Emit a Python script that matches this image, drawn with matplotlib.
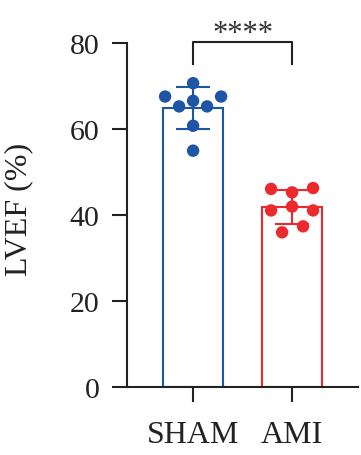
import numpy as np
import matplotlib
matplotlib.use("Agg")
import matplotlib.pyplot as plt

plt.rcParams['font.family'] = ['Liberation Serif', 'DejaVu Serif']

groups = ["SHAM", "AMI"]
sham_values = [70.7, 67.6, 65.3, 66.6, 65.3, 67.6, 60.8, 55.0]
sham_jitter = [0.0, -0.283, -0.141, 0.0, 0.141, 0.283, 0.0, 0.0]
ami_values = [46.1, 45.3, 46.3, 41.1, 42.0, 41.1, 37.4, 36.0]
ami_jitter = [-0.212, 0.0, 0.212, -0.212, 0.0, 0.212, 0.111, -0.101]
yticks = [0, 20, 40, 60, 80]
ylabel = "LVEF (%)"
signif = "****"

colors = ["#1F55A6", "#EC2A2E"]
values = [sham_values, ami_values]
jitters = [sham_jitter, ami_jitter]

fig = plt.figure(figsize=(3.61, 4.56), dpi=100)
ax = fig.add_axes([0.352, 0.149, 0.64, 0.754])

lw = 1.5
for i, (vals, jit, c) in enumerate(zip(values, jitters, colors)):
    v = np.array(vals)
    m = v.mean()
    sd = v.std(ddof=1)
    ax.bar(i, m, width=0.61, facecolor='white', edgecolor=c, linewidth=lw, zorder=1)
    ax.errorbar(i, m, yerr=sd, color=c, capsize=12, elinewidth=lw, capthick=lw, zorder=2)
    ax.scatter(i + np.array(jit), v, s=80, color=c, edgecolors='none', zorder=3, clip_on=False)

ax.set_xlim(-0.667, 1.667)
ax.set_ylim(0, 80)
ax.set_yticks(yticks)
ax.set_xticks(range(len(groups)))
ax.set_xticklabels(groups)
for s in ['top', 'right']:
    ax.spines[s].set_visible(False)
for s in ['left', 'bottom']:
    ax.spines[s].set_linewidth(1.5)
    ax.spines[s].set_color('#222222')
ax.tick_params(axis='y', length=11, width=1.5, pad=9, labelsize=21.5, colors='#222222')
ax.tick_params(axis='x', length=11, width=1.5, pad=13, labelsize=23, colors='#222222')
ax.set_ylabel(ylabel, fontsize=23, color='#222222')
ax.yaxis.set_label_coords(-0.405, 0.52)

# significance bracket
ax.plot([0, 0, 1, 1], [75.1, 80.2, 80.2, 75.1], color='#222222', lw=1.5, clip_on=False)
ax.text(0.5, 82.3, signif, ha='center', va='center', fontsize=22, color='#333333')

fig.savefig("out.png", dpi=100)
